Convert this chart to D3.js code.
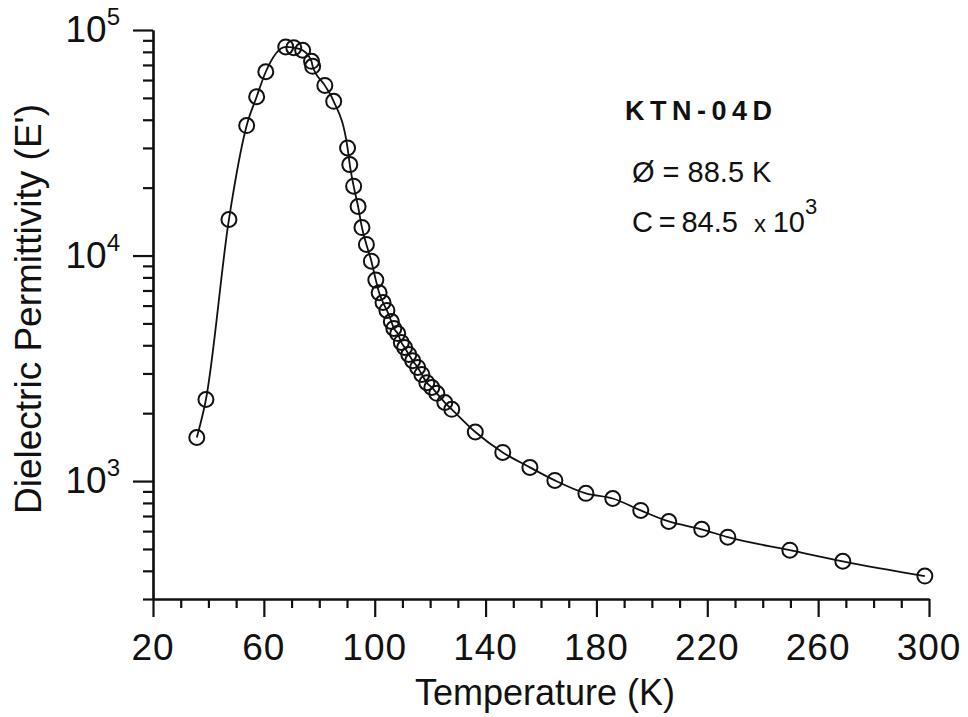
<!DOCTYPE html>
<html>
<head>
<meta charset="utf-8">
<script src="https://cdn.jsdelivr.net/npm/d3@7"></script>
<style>
  html, body { margin: 0; padding: 0; background: #fff; }
  svg { display: block; font-family: "Liberation Sans", Arial, Helvetica, sans-serif; }
</style>
</head>
<body>
<div id="chart"></div>
<script>
// Temperature (K) and dielectric permittivity
const temperature = [35.8, 39.1, 47.4, 53.8, 57.4, 60.7, 67.9, 70.8, 74.0, 77.2, 77.6, 82.0, 85.2,
  90.2, 91.0, 92.4, 94.0, 95.4, 97.0, 98.8, 100.4, 101.6, 103.0, 104.4, 106.0, 106.9, 108.3,
  109.6, 110.8, 112.3, 113.7, 115.5, 117.0, 118.8, 120.6, 122.4, 125.3, 127.8, 136.3, 146.2,
  156.0, 165.0, 176.2, 185.9, 196.0, 206.1, 218.0, 227.4, 249.8, 268.9, 298.5];
const permittivity = [1560, 2300, 14450, 37700, 50600, 65300, 84100, 83500, 81300, 72600, 69000, 56800, 48300,
  30000, 25300, 20300, 16500, 13300, 11200, 9440, 7780, 6840, 6190, 5710, 5100, 4750, 4510,
  4120, 3910, 3640, 3420, 3190, 2970, 2730, 2600, 2450, 2230, 2080, 1650, 1340,
  1150, 1007, 882, 837, 741, 662, 611, 564, 494, 441, 379];

const xTicks = [20, 60, 100, 140, 180, 220, 260, 300];
const yDecades = [3, 4, 5];
const annotation = { title: 'KTN-04D', theta: 'Ø = 88.5 K', curie: '84.5', curieExp: '3' };

const width = 968, height = 717;
const margin = { top: 30, right: 39, bottom: 118, left: 153 };

const data = temperature.map((t, i) => ({ t, v: permittivity[i] }));

const svg = d3.select('#chart').append('svg')
  .attr('width', width)
  .attr('height', height);

const x = d3.scaleLinear()
  .domain([20, 300])
  .range([margin.left, width - margin.right]);

const y = d3.scaleLog()
  .domain([300, 1e5])
  .range([height - margin.bottom, margin.top]);

// minor ticks
const xMinor = d3.range(20, 301, 10).filter(v => !xTicks.includes(v));
const yMinor = [];
for (let e = 2; e <= 4; e++) {
  for (let m = 2; m <= 9; m++) {
    const v = m * Math.pow(10, e);
    if (v >= 300 && v < 1e5) yMinor.push(v);
  }
}

const xAxisY = height - margin.bottom;

const gx = svg.append('g').attr('transform', `translate(0,${xAxisY})`);
gx.call(d3.axisBottom(x).tickValues(xTicks).tickSize(18).tickSizeOuter(0).tickFormat(''));
gx.append('g').call(d3.axisBottom(x).tickValues(xMinor).tickSize(9).tickSizeOuter(0).tickFormat(''));

const gy = svg.append('g').attr('transform', `translate(${margin.left},0)`);
gy.call(d3.axisLeft(y).tickValues(yDecades.map(e => Math.pow(10, e))).tickSize(20).tickSizeOuter(0).tickFormat(''));
gy.append('g').call(d3.axisLeft(y).tickValues(yMinor).tickSize(10).tickSizeOuter(0).tickFormat(''));

svg.selectAll('.domain, .tick line')
  .attr('stroke', '#111')
  .attr('stroke-width', 2.2);

// x tick labels
svg.selectAll('.x-label')
  .data(xTicks)
  .join('text')
  .attr('x', d => x(d))
  .attr('y', xAxisY + 61)
  .attr('text-anchor', 'middle')
  .attr('font-size', 37)
  .attr('letter-spacing', 1)
  .attr('fill', '#111')
  .text(d => d);

// y tick labels as powers of ten
const yl = svg.selectAll('.y-label')
  .data(yDecades)
  .join('text')
  .attr('x', margin.left - 33)
  .attr('y', d => y(Math.pow(10, d)) + 12)
  .attr('text-anchor', 'end')
  .attr('fill', '#111');
yl.append('tspan').attr('font-size', 37).text('10');
yl.append('tspan').attr('font-size', 24).attr('dy', -17).text(d => d);

// axis titles
svg.append('text')
  .attr('x', 545)
  .attr('y', 705)
  .attr('text-anchor', 'middle')
  .attr('font-size', 36)
  .attr('fill', '#111')
  .text('Temperature (K)');

svg.append('text')
  .attr('transform', 'translate(41,309) rotate(-90)')
  .attr('text-anchor', 'middle')
  .attr('font-size', 37)
  .attr('fill', '#111')
  .text("Dielectric Permittivity (E')");

// curve and markers
const line = d3.line()
  .x(d => x(d.t))
  .y(d => y(d.v))
  .curve(d3.curveMonotoneX);

svg.append('path')
  .datum(data)
  .attr('d', line)
  .attr('fill', 'none')
  .attr('stroke', '#111')
  .attr('stroke-width', 1.8);

svg.selectAll('.pt')
  .data(data)
  .join('circle')
  .attr('cx', d => x(d.t))
  .attr('cy', d => y(d.v))
  .attr('r', 7.5)
  .attr('fill', 'none')
  .attr('stroke', '#111')
  .attr('stroke-width', 2);

// annotation
svg.append('text')
  .attr('x', 625)
  .attr('y', 120)
  .attr('font-size', 27)
  .attr('font-weight', 'bold')
  .attr('letter-spacing', 5.5)
  .attr('fill', '#111')
  .text(annotation.title);

svg.append('text')
  .attr('x', 632)
  .attr('y', 182)
  .attr('font-size', 29)
  .attr('fill', '#111')
  .text(annotation.theta);

const ct = svg.append('text')
  .attr('x', 632)
  .attr('y', 232)
  .attr('font-size', 29)
  .attr('fill', '#111');
ct.append('tspan').text('C\u2009=\u2009' + annotation.curie + '\u00a0 ');
ct.append('tspan').attr('font-size', 24).text('x ');
ct.append('tspan').text('10');
ct.append('tspan').attr('font-size', 22).attr('dy', -18).text(annotation.curieExp);
</script>
</body>
</html>
